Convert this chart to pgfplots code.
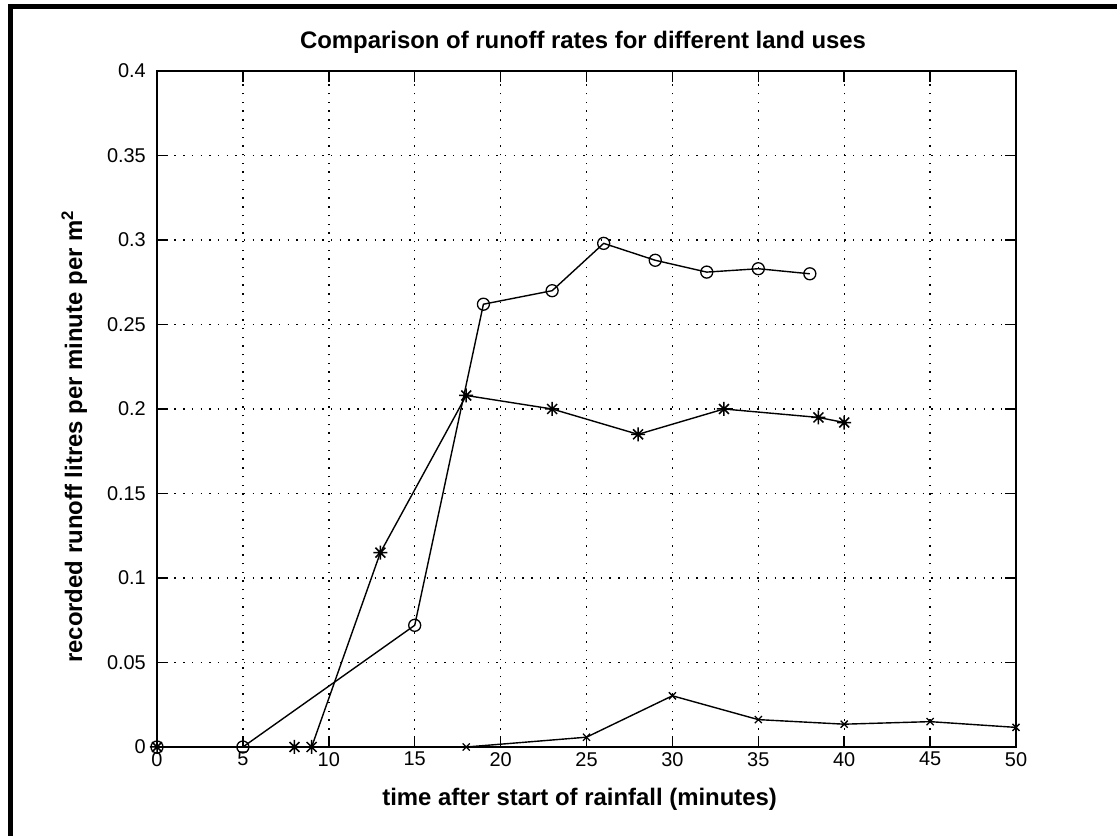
\documentclass[border=0pt]{standalone}
\usepackage{pgfplots}
\pgfplotsset{compat=1.18}
\usepackage{fontspec}
\setmainfont{Liberation Sans}

\pgfdeclareplotmark{mstar}{%
  \pgfpathmoveto{\pgfpoint{-\pgfplotmarksize}{0pt}}\pgfpathlineto{\pgfpoint{\pgfplotmarksize}{0pt}}%
  \pgfpathmoveto{\pgfpoint{0pt}{-\pgfplotmarksize}}\pgfpathlineto{\pgfpoint{0pt}{\pgfplotmarksize}}%
  \pgfpathmoveto{\pgfpoint{-0.7071\pgfplotmarksize}{-0.7071\pgfplotmarksize}}\pgfpathlineto{\pgfpoint{0.7071\pgfplotmarksize}{0.7071\pgfplotmarksize}}%
  \pgfpathmoveto{\pgfpoint{-0.7071\pgfplotmarksize}{0.7071\pgfplotmarksize}}\pgfpathlineto{\pgfpoint{0.7071\pgfplotmarksize}{-0.7071\pgfplotmarksize}}%
  \pgfusepathqstroke}

\begin{document}
\begin{tikzpicture}
\path[use as bounding box] (0,0) rectangle (1117bp,836bp);
\fill[black] (8bp,0) rectangle (13bp,832bp);
\fill[black] (8bp,827bp) rectangle (1117bp,832bp);
\begin{axis}[
  at={(157bp,89bp)}, anchor=south west,
  scale only axis, width=859bp, height=676bp,
  xmin=0, xmax=50, ymin=0, ymax=0.4,
  xtick={0,5,10,15,20,25,30,35,40,45,50},
  xticklabels={0,5,10,15,20,25,30,35,40,45,50},
  ytick={0,0.05,0.1,0.15,0.2,0.25,0.3,0.35,0.4},
  yticklabels={0,0.05,0.1,0.15,0.2,0.25,0.3,0.35,0.4},
  grid=major,
  major grid style={black, line width=1.4bp, dash pattern=on 1.4bp off 7.3bp},
  tick align=inside, major tick length=11bp,
  tick style={black, line width=1.5bp},
  axis line style={black, line width=1.6bp},
  /pgf/number format/assume math mode=true,
  ticklabel style={font=\fontsize{20}{24}\selectfont},
  yticklabel style={anchor=east, inner sep=0pt, xshift=-11bp},
  xticklabel style={anchor=north, inner sep=0pt, yshift=-5bp},
  title={Comparison of runoff rates for different land uses},
  title style={font=\bfseries\fontsize{24}{28}\selectfont, at={(axis description cs:0.496,1.0237)}, anchor=base, inner sep=0pt},
  xlabel={time after start of rainfall (minutes)},
  xlabel style={font=\bfseries\fontsize{24}{28}\selectfont, at={(axis description cs:0.492,-0.0858)}, anchor=base, inner sep=0pt},
  ylabel={recorded runoff litres per minute per m\textsuperscript{2}},
  ylabel style={font=\bfseries\fontsize{24}{28}\selectfont, at={(axis description cs:-0.0873,0.459)}, anchor=base, inner sep=0pt, rotate=0},
  clip=false,
]
\addplot[black, line width=1.4bp, mark=o, mark size=6bp, mark options={fill=white, line width=1.3bp}] coordinates {
  (0,0) (5,0) (15,0.072) (19,0.262) (23,0.270) (26,0.298) (29,0.288) (32,0.281) (35,0.283) (38,0.280)
};
\addplot[black, line width=1.4bp, mark=mstar, mark size=7bp, mark options={line width=1.5bp}] coordinates {
  (0,0) (8,0) (9,0) (13,0.115) (18,0.208) (23,0.200) (28,0.185) (33,0.200) (38.5,0.195) (40,0.192)
};
\addplot[black, line width=1.4bp, mark=x, mark size=5bp, mark options={line width=1.3bp}] coordinates {
  (18,0) (25,0.0058) (30,0.0303) (35,0.0162) (40,0.0135) (45,0.0150) (50,0.0116)
};
\end{axis}
\end{tikzpicture}
\end{document}
